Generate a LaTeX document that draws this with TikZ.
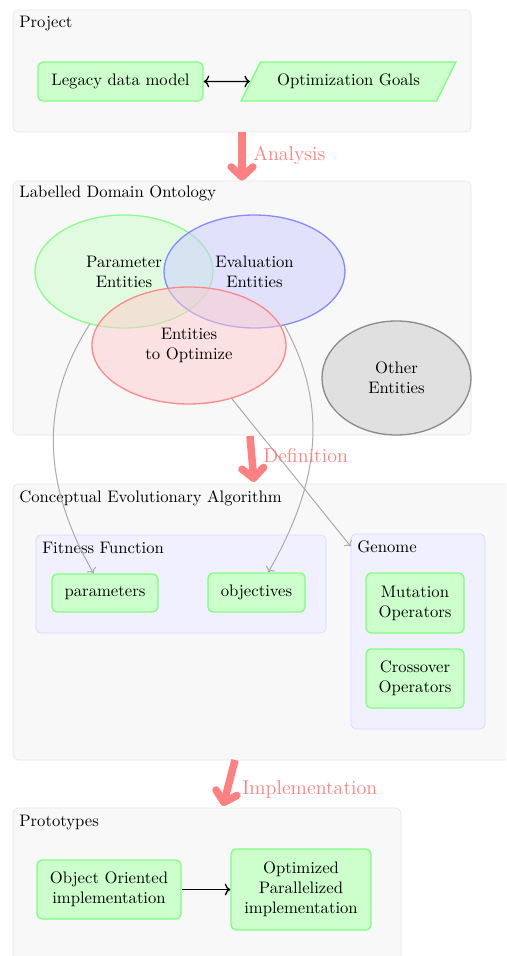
\documentclass[tikz,border=0pt]{standalone}
\usepackage{tikz}
\usetikzlibrary{arrows.meta,positioning,shapes.geometric,calc}
\definecolor{panel}{RGB}{248,248,248}
\definecolor{panelrim}{RGB}{230,230,230}
\definecolor{subpanel}{RGB}{240,240,255}
\definecolor{subrim}{RGB}{215,215,255}
\definecolor{phasered}{RGB}{255,128,128}
\tikzset{
  >={To},
  group/.style={draw=panelrim,fill=panel,rounded corners=3pt,inner sep=0pt},
  subgroup/.style={draw=subrim,fill=subpanel,rounded corners=3pt,inner sep=0pt},
  title/.style={anchor=base west,inner sep=0pt},
  item/.style={draw=green!50,fill=green!20,thick,rounded corners=3pt,align=center,
    inner sep=2pt},
  set/.style={ellipse,draw=#1!50,fill=#1!20,fill opacity=0.5,draw opacity=0.9,
    text opacity=1,thick,align=center},
  other/.style={ellipse,draw=black!45,fill=black!12,thick,align=center},
  phase/.style={-{Straight Barb[round,length=6pt,width=13pt]},line width=4.5pt,
    draw=phasered},
  phasetag/.style={text=phasered,font=\large,anchor=west,inner sep=0pt},
  link/.style={->,draw=black!33,line width=0.6pt},
}

\begin{document}
\begin{tikzpicture}[x=0.6pt,y=-0.6pt]
  \useasboundingbox (0,0) rectangle (506,956);
  \clip (0,0) rectangle (506,956);

  % project
  \node[group,minimum width=274.8pt,minimum height=73.2pt] (project) at (242,71) {};
  \node[title] (projecttitle) at (19,28) {Project};
  \node[item,minimum width=99pt,minimum height=23.4pt] (legacy) at (120.5,81.5) {Legacy data model};
  \node[item,rounded corners=0pt,trapezium,trapezium left angle=53,trapezium right angle=127,
    trapezium stretches=true,minimum width=129pt,minimum height=23.4pt] (goals) at (348.5,81.5) {Optimization Goals};
  \draw[<->,thick] (legacy) -- (goals);

  % ontology
  \node[group,minimum width=274.8pt,minimum height=152.4pt] (ontology) at (242,308) {};
  \node[title] (ontologytitle) at (19,198) {Labelled Domain Ontology};
  \node[set=green,minimum width=106.8pt,minimum height=67.8pt] (param) at (124,271.5) {Parameter\\Entities};
  \node[set=blue,minimum width=108.6pt,minimum height=67.8pt] (evalset) at (254.5,271.5) {Evaluation\\Entities};
  \node[set=red,minimum width=116.4pt,minimum height=70.2pt] (optimize) at (189,345.5) {Entities\\to Optimize};
  \node[other,minimum width=89.4pt,minimum height=68.4pt] (rest) at (396.5,378) {Other\\Entities};

  % algorithm
  \node[group,minimum width=304.2pt,minimum height=165.6pt] (algo) at (266.5,622) {};
  \node[title] (algotitle) at (19,502) {Conceptual Evolutionary Algorithm};
  \node[subgroup,minimum width=174pt,minimum height=58.8pt] (fitness) at (181,584) {};
  \node[title] (fitnesstitle) at (42,553) {Fitness Function};
  \node[item,minimum width=63.6pt,minimum height=22.8pt] (parameters) at (105,593) {parameters};
  \node[item,minimum width=58.2pt,minimum height=23.4pt] (objectives) at (256.5,592.5) {objectives};
  \node[subgroup,minimum width=80.4pt,minimum height=117pt] (genome) at (418,631.5) {};
  \node[title] (genometitle) at (357,552) {Genome};
  \node[item,minimum width=58.8pt,minimum height=36pt] (mutation) at (415,603) {Mutation\\Operators};
  \node[item,minimum width=58.8pt,minimum height=35.4pt] (crossover) at (415,678.5) {Crossover\\Operators};

  % prototypes
  \node[group,minimum width=232.8pt,minimum height=97.2pt] (proto) at (207,889) {};
  \node[title] (prototitle) at (19,826) {Prototypes};
  \node[item,minimum width=86.4pt,minimum height=35.4pt] (oo) at (109,889.5) {Object Oriented\\implementation};
  \node[item,minimum width=84pt,minimum height=48.6pt] (parallel) at (301,889.5) {Optimized\\Parallelized\\implementation};
  \draw[->,thick] (oo) -- (parallel);

  % gray links
  \draw[link] (param) to[out=-123,in=120] (parameters);
  \draw[link] (evalset) to[out=-61,in=60] (objectives);
  \draw[link] (optimize) -- (genome.west |- genometitle.west);

  % phases
  \coordinate (d1) at (250,436);
  \coordinate (d2) at (254,482);
  \coordinate (i1) at (235,760);
  \coordinate (i2) at (223,806);
  \draw[phase] (project) -- (ontology);
  \draw[phase] (d1) -- (d2);
  \draw[phase] (i1) -- (i2);
  \node[phasetag] (analysis) at (253,155) {Analysis};
  \node[phasetag] (definition) at (263,456) {Definition};
  \node[phasetag] (implementation) at (242,789) {Implementation};
\end{tikzpicture}
\end{document}
